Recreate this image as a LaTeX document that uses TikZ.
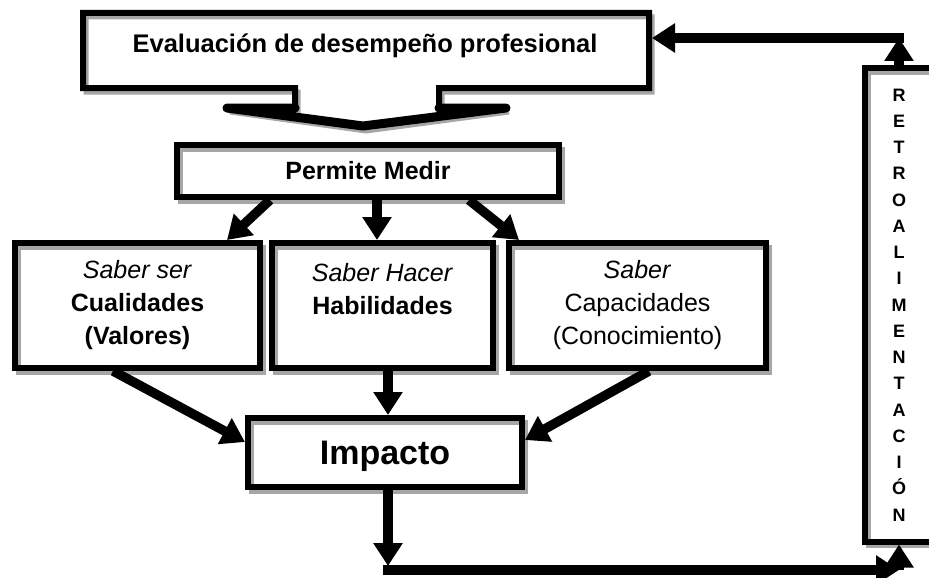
\documentclass[tikz,border=0pt]{standalone}
\usepackage{fontspec}
\setmainfont{Liberation Sans}
\usetikzlibrary{arrows.meta}
\begin{document}
\begin{tikzpicture}[x=1pt,y=-1pt,
  shad/.style={preaction={draw=black!35,line width=5pt,transform canvas={xshift=3pt,yshift=-4pt}}},
  box/.style={draw=black,line width=6pt,shad,inner sep=0pt,align=center,anchor=center},
  arr/.style={line width=9.5pt,-{Triangle[width=28pt,length=23pt]}},
  lbl/.style={font=\fontsize{25}{33}\selectfont}]
\useasboundingbox (0,0) rectangle (929,578);
% top callout shape
\draw[line width=6pt,shad]
  (83,13) -- (649,13) -- (649,88) -- (439,88) -- (439,108) -- (506,108)
  -- (363,127) -- (227,108) -- (295,108) -- (295,88) -- (83,88) -- cycle;
\draw[line width=9pt,line cap=round,line join=round]
  (295,108) -- (227,108) -- (363,126) -- (506,108) -- (439,108);
\node[font=\bfseries\fontsize{25.5}{30}\selectfont] (eval) at (365,46) {Evaluación de desempeño profesional};
\coordinate (evalR) at (652,38);
% boxes
\node[box,minimum width=382pt,minimum height=52pt,font=\bfseries\fontsize{25}{30}\selectfont] (pm) at (368,171) {Permite Medir};
\node[box,lbl,minimum width=245pt,minimum height=125pt] (lb) at (137.5,305.5) {\textit{Saber ser}\\\textbf{Cualidades}\\\textbf{(Valores)}};
\node[box,lbl,minimum width=221pt,minimum height=125pt] (mid) at (382.5,305.5) {\textit{Saber Hacer}\\\textbf{Habilidades}\\~};
\node[box,lbl,minimum width=257pt,minimum height=125pt] (rb) at (637.5,305.5) {\textit{Saber}\\Capacidades\\(Conocimiento)};
\node[box,minimum width=274pt,minimum height=69pt,text depth=0pt,font=\bfseries\fontsize{34}{40}\selectfont] (imp) at (385,452.5) {Impacto};
\node[box,minimum width=68pt,minimum height=473pt,font=\bfseries\fontsize{18}{26.25}\selectfont] (ret) at (899,305)
  {R\\E\\T\\R\\O\\A\\L\\I\\M\\E\\N\\T\\A\\C\\I\\Ó\\N};
% coordinates
\coordinate (c1) at (388,570);
\coordinate (c1a) at (388,566);
\coordinate (c2) at (899,570);
\coordinate (c3) at (899,38);
% arrows
\draw[arr] ([xshift=-98pt]pm.south) -- ([xshift=89.5pt]lb.north);
\draw[arr] ([xshift=9pt]pm.south) -- ([xshift=-5.5pt]mid.north);
\draw[arr] ([xshift=101pt]pm.south) -- ([xshift=-118.5pt]rb.north);
\draw[arr] ([xshift=-24.5pt]lb.south) -- ([yshift=10.5pt]imp.west);
\draw[arr] ([xshift=5.5pt]mid.south) -- ([xshift=3pt]imp.north);
\draw[arr] ([xshift=11.5pt]rb.south) -- ([yshift=12.5pt]imp.east);
\draw[arr] ([xshift=3pt]imp.south) -- (c1a);
\draw[arr] ([xshift=-4.75pt]c1) -- (c2);
\draw[arr] (c2) -- (ret.south);
\draw[arr] (ret.north) -- (c3);
\draw[arr] ([xshift=4.75pt]c3) -- (evalR);
\end{tikzpicture}
\end{document}
